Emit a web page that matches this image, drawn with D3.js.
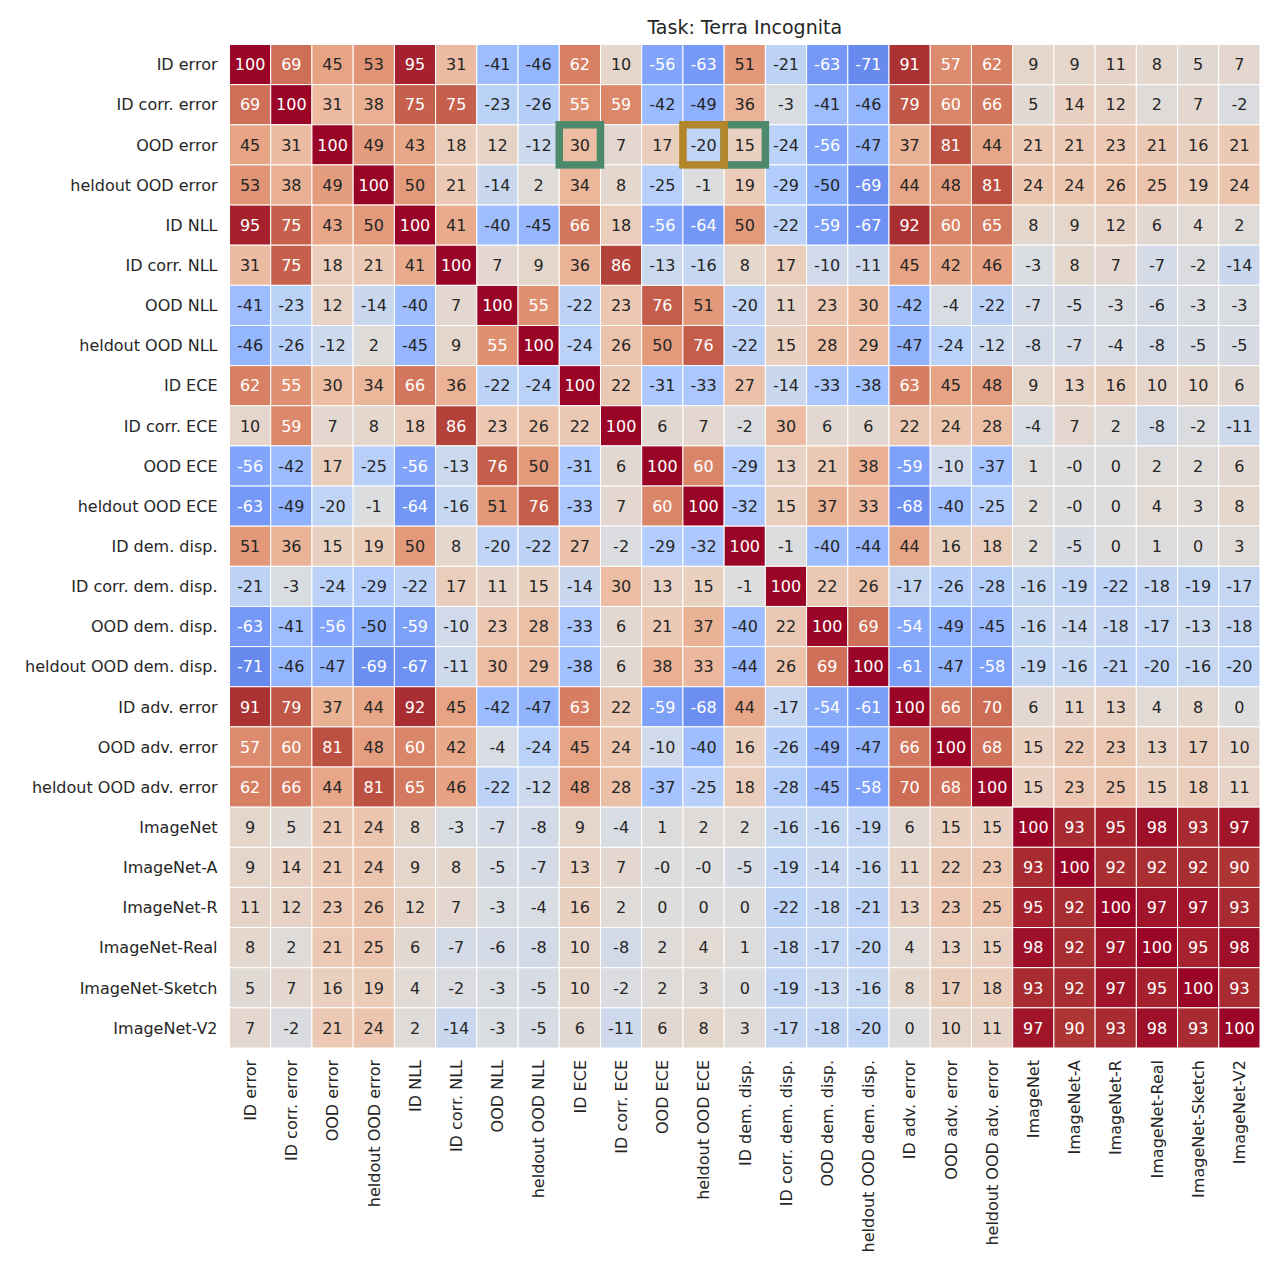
<!DOCTYPE html>
<html>
<head>
<meta charset="utf-8">
<script src="https://cdn.jsdelivr.net/npm/d3@7"></script>
<style>
  body { margin: 0; background: #fff; }
  text { font-family: "DejaVu Sans", sans-serif; }
</style>
</head>
<body>
<div id="chart"></div>
<script>
var title = "Task: Terra Incognita";

var labels = ["ID error", "ID corr. error", "OOD error", "heldout OOD error", "ID NLL",
  "ID corr. NLL", "OOD NLL", "heldout OOD NLL", "ID ECE", "ID corr. ECE", "OOD ECE",
  "heldout OOD ECE", "ID dem. disp.", "ID corr. dem. disp.", "OOD dem. disp.",
  "heldout OOD dem. disp.", "ID adv. error", "OOD adv. error", "heldout OOD adv. error",
  "ImageNet", "ImageNet-A", "ImageNet-R", "ImageNet-Real", "ImageNet-Sketch", "ImageNet-V2"];

// correlation values (x100), row by row, as printed in the cells
var values = [
  [100, 69, 45, 53, 95, 31, -41, -46, 62, 10, -56, -63, 51, -21, -63, -71, 91, 57, 62, 9, 9, 11, 8, 5, 7],
  [69, 100, 31, 38, 75, 75, -23, -26, 55, 59, -42, -49, 36, -3, -41, -46, 79, 60, 66, 5, 14, 12, 2, 7, -2],
  [45, 31, 100, 49, 43, 18, 12, -12, 30, 7, 17, -20, 15, -24, -56, -47, 37, 81, 44, 21, 21, 23, 21, 16, 21],
  [53, 38, 49, 100, 50, 21, -14, 2, 34, 8, -25, -1, 19, -29, -50, -69, 44, 48, 81, 24, 24, 26, 25, 19, 24],
  [95, 75, 43, 50, 100, 41, -40, -45, 66, 18, -56, -64, 50, -22, -59, -67, 92, 60, 65, 8, 9, 12, 6, 4, 2],
  [31, 75, 18, 21, 41, 100, 7, 9, 36, 86, -13, -16, 8, 17, -10, -11, 45, 42, 46, -3, 8, 7, -7, -2, -14],
  [-41, -23, 12, -14, -40, 7, 100, 55, -22, 23, 76, 51, -20, 11, 23, 30, -42, -4, -22, -7, -5, -3, -6, -3, -3],
  [-46, -26, -12, 2, -45, 9, 55, 100, -24, 26, 50, 76, -22, 15, 28, 29, -47, -24, -12, -8, -7, -4, -8, -5, -5],
  [62, 55, 30, 34, 66, 36, -22, -24, 100, 22, -31, -33, 27, -14, -33, -38, 63, 45, 48, 9, 13, 16, 10, 10, 6],
  [10, 59, 7, 8, 18, 86, 23, 26, 22, 100, 6, 7, -2, 30, 6, 6, 22, 24, 28, -4, 7, 2, -8, -2, -11],
  [-56, -42, 17, -25, -56, -13, 76, 50, -31, 6, 100, 60, -29, 13, 21, 38, -59, -10, -37, 1, "-0", 0, 2, 2, 6],
  [-63, -49, -20, -1, -64, -16, 51, 76, -33, 7, 60, 100, -32, 15, 37, 33, -68, -40, -25, 2, "-0", 0, 4, 3, 8],
  [51, 36, 15, 19, 50, 8, -20, -22, 27, -2, -29, -32, 100, -1, -40, -44, 44, 16, 18, 2, -5, 0, 1, 0, 3],
  [-21, -3, -24, -29, -22, 17, 11, 15, -14, 30, 13, 15, -1, 100, 22, 26, -17, -26, -28, -16, -19, -22, -18, -19, -17],
  [-63, -41, -56, -50, -59, -10, 23, 28, -33, 6, 21, 37, -40, 22, 100, 69, -54, -49, -45, -16, -14, -18, -17, -13, -18],
  [-71, -46, -47, -69, -67, -11, 30, 29, -38, 6, 38, 33, -44, 26, 69, 100, -61, -47, -58, -19, -16, -21, -20, -16, -20],
  [91, 79, 37, 44, 92, 45, -42, -47, 63, 22, -59, -68, 44, -17, -54, -61, 100, 66, 70, 6, 11, 13, 4, 8, 0],
  [57, 60, 81, 48, 60, 42, -4, -24, 45, 24, -10, -40, 16, -26, -49, -47, 66, 100, 68, 15, 22, 23, 13, 17, 10],
  [62, 66, 44, 81, 65, 46, -22, -12, 48, 28, -37, -25, 18, -28, -45, -58, 70, 68, 100, 15, 23, 25, 15, 18, 11],
  [9, 5, 21, 24, 8, -3, -7, -8, 9, -4, 1, 2, 2, -16, -16, -19, 6, 15, 15, 100, 93, 95, 98, 93, 97],
  [9, 14, 21, 24, 9, 8, -5, -7, 13, 7, "-0", "-0", -5, -19, -14, -16, 11, 22, 23, 93, 100, 92, 92, 92, 90],
  [11, 12, 23, 26, 12, 7, -3, -4, 16, 2, 0, 0, 0, -22, -18, -21, 13, 23, 25, 95, 92, 100, 97, 97, 93],
  [8, 2, 21, 25, 6, -7, -6, -8, 10, -8, 2, 4, 1, -18, -17, -20, 4, 13, 15, 98, 92, 97, 100, 95, 98],
  [5, 7, 16, 19, 4, -2, -3, -5, 10, -2, 2, 3, 0, -19, -13, -16, 8, 17, 18, 93, 92, 97, 95, 100, 93],
  [7, -2, 21, 24, 2, -14, -3, -5, 6, -11, 6, 8, 3, -17, -18, -20, 0, 10, 11, 97, 90, 93, 98, 93, 100]
];

// highlighted cells: [row label, column label, colour]
var highlights = [
  ["OOD error", "ID ECE", "#4d8a6b"],
  ["OOD error", "ID dem. disp.", "#4d8a6b"],
  ["OOD error", "heldout OOD ECE", "#b3862c"]
];

// coolwarm colormap stops
var coolwarm = [
  [59,76,192],[68,90,204],[77,104,215],[87,117,225],[98,130,234],[108,142,241],
  [119,154,247],[130,165,251],[141,176,254],[152,185,255],[163,194,255],[174,201,253],
  [184,208,249],[194,213,244],[204,217,238],[213,219,230],[221,221,221],[229,216,209],
  [236,211,197],[241,204,185],[245,196,173],[247,187,160],[247,177,148],[247,166,135],
  [244,154,123],[241,141,111],[236,127,99],[229,112,88],[222,96,77],[213,80,66],
  [203,62,56],[192,40,47],[180,4,38]
];

(function () {
  var W = 1278, H = 1278;
  var m = { left: 229.5, right: 1260, top: 44.5, bottom: 1048 };

  var svg = d3.select('#chart').append('svg')
    .attr('width', W)
    .attr('height', H);

  var x = d3.scaleBand().domain(labels).range([m.left, m.right]);
  var y = d3.scaleBand().domain(labels).range([m.top, m.bottom]);

  var color = d3.scaleLinear()
    .domain(coolwarm.map(function (d, i) { return -100 + 200 * i / (coolwarm.length - 1); }))
    .range(coolwarm.map(function (c) { return d3.rgb(c[0], c[1], c[2]); }))
    .interpolate(d3.interpolateRgb)
    .clamp(true);

  // the warm half looks a bit deeper in the picture, so pull red down a little
  var fill = function (v) {
    var c = d3.rgb(color(v));
    if (v > 0) c.r = c.r * (1 - 0.29 * v / 200);
    return c.formatRgb();
  };

  // seaborn style text colour: dark on light cells, white on dark
  var lum = function (c) {
    var ch = [c.r, c.g, c.b].map(function (v) {
      v = v / 255;
      return v <= 0.03928 ? v / 12.92 : Math.pow((v + 0.055) / 1.055, 2.4);
    });
    return 0.2126 * ch[0] + 0.7152 * ch[1] + 0.0722 * ch[2];
  };

  var cells = [];
  values.forEach(function (row, i) {
    row.forEach(function (v, j) {
      cells.push({ r: labels[i], c: labels[j], v: +v, t: String(v) });
    });
  });

  svg.append('g').selectAll('rect').data(cells)
    .enter().append('rect')
    .attr('x', function (d) { return x(d.c); })
    .attr('y', function (d) { return y(d.r); })
    .attr('width', x.bandwidth())
    .attr('height', y.bandwidth())
    .attr('fill', function (d) { return fill(d.v); })
    .attr('stroke', '#fff')
    .attr('stroke-width', 1);

  svg.append('g').selectAll('text').data(cells)
    .enter().append('text')
    .attr('x', function (d) { return x(d.c) + x.bandwidth() / 2; })
    .attr('y', function (d) { return y(d.r) + y.bandwidth() / 2; })
    .attr('dy', '0.36em')
    .attr('text-anchor', 'middle')
    .attr('font-size', 16)
    .attr('fill', function (d) { return lum(d3.rgb(color(d.v))) > 0.408 ? '#262626' : '#ffffff'; })
    .text(function (d) { return d.t; });

  // highlight boxes
  svg.append('g').selectAll('rect').data(highlights)
    .enter().append('rect')
    .attr('x', function (d) { return x(d[1]); })
    .attr('y', function (d) { return y(d[0]); })
    .attr('width', x.bandwidth())
    .attr('height', y.bandwidth())
    .attr('fill', 'none')
    .attr('stroke', function (d) { return d[2]; })
    .attr('stroke-width', 7.5);

  // row labels
  svg.append('g').selectAll('text').data(labels)
    .enter().append('text')
    .attr('x', m.left - 12)
    .attr('y', function (d) { return y(d) + y.bandwidth() / 2; })
    .attr('dy', '0.36em')
    .attr('text-anchor', 'end')
    .attr('font-size', 16)
    .attr('fill', '#262626')
    .text(function (d) { return d; });

  // column labels, rotated
  svg.append('g').selectAll('text').data(labels)
    .enter().append('text')
    .attr('transform', function (d) {
      return 'translate(' + (x(d) + x.bandwidth() / 2) + ',' + (m.bottom + 12) + ') rotate(-90)';
    })
    .attr('dy', '0.36em')
    .attr('text-anchor', 'end')
    .attr('font-size', 16)
    .attr('fill', '#262626')
    .text(function (d) { return d; });

  svg.append('text')
    .attr('x', (m.left + m.right) / 2)
    .attr('y', 34)
    .attr('text-anchor', 'middle')
    .attr('font-size', 19)
    .attr('fill', '#262626')
    .text(title);
})();
</script>
</body>
</html>
